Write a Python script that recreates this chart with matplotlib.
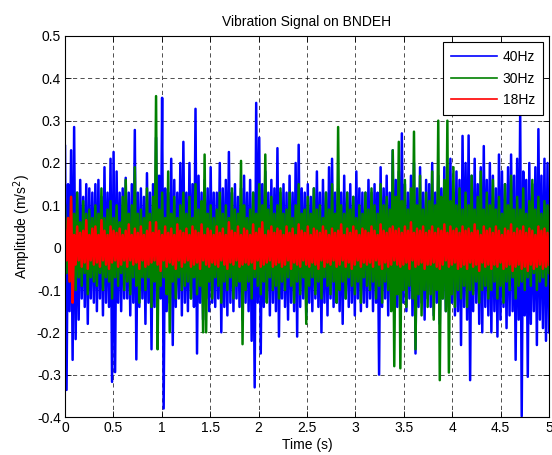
import numpy as np
import matplotlib
matplotlib.use("Agg")
import matplotlib.pyplot as plt
from matplotlib.ticker import FormatStrFormatter, MultipleLocator

plt.rcParams["font.family"] = ["Liberation Sans", "DejaVu Sans"]
plt.rcParams["font.size"] = 10

blue_hi = [
    0.24, 0.15, 0.23, 0.285, 0.13, 0.16, 0.12, 0.15, 0.14, 0.13,
    0.15, 0.16, 0.12, 0.19, 0.13, 0.21, 0.226, 0.18, 0.13, 0.14,
    0.165, 0.13, 0.15, 0.278, 0.13, 0.14, 0.12, 0.176, 0.13, 0.15,
    0.26, 0.17, 0.354, 0.14, 0.13, 0.21, 0.16, 0.13, 0.2, 0.25,
    0.13, 0.2, 0.15, 0.328, 0.17, 0.13, 0.16, 0.14, 0.19, 0.13,
    0.13, 0.2, 0.14, 0.16, 0.226, 0.13, 0.15, 0.12, 0.14, 0.17,
    0.13, 0.16, 0.13, 0.342, 0.26, 0.15, 0.18, 0.13, 0.16, 0.14,
    0.235, 0.13, 0.15, 0.13, 0.17, 0.13, 0.2, 0.243, 0.14, 0.13,
    0.15, 0.12, 0.14, 0.18, 0.13, 0.16, 0.13, 0.19, 0.21, 0.13,
    0.14, 0.13, 0.17, 0.13, 0.15, 0.12, 0.18, 0.14, 0.13, 0.13,
    0.16, 0.13, 0.15, 0.13, 0.19, 0.14, 0.17, 0.13, 0.23, 0.16,
    0.18, 0.27, 0.15, 0.13, 0.17, 0.2, 0.14, 0.19, 0.13, 0.16,
    0.15, 0.2, 0.13, 0.17, 0.14, 0.19, 0.15, 0.21, 0.13, 0.18,
    0.16, 0.264, 0.2, 0.265, 0.17, 0.21, 0.15, 0.19, 0.24, 0.16,
    0.2, 0.17, 0.14, 0.22, 0.18, 0.15, 0.19, 0.22, 0.17, 0.21,
    0.32, 0.18, 0.16, 0.2, 0.15, 0.19, 0.28, 0.17, 0.21, 0.2,
]
blue_lo = [
    -0.336, -0.15, -0.265, -0.216, -0.17, -0.12, -0.14, -0.18, -0.12, -0.13,
    -0.15, -0.12, -0.16, -0.13, -0.14, -0.317, -0.294, -0.13, -0.15, -0.12,
    -0.12, -0.16, -0.13, -0.264, -0.14, -0.12, -0.18, -0.13, -0.24, -0.14,
    -0.17, -0.12, -0.38, -0.15, -0.13, -0.23, -0.14, -0.12, -0.16, -0.13,
    -0.15, -0.12, -0.14, -0.25, -0.13, -0.17, -0.12, -0.15, -0.13, -0.14,
    -0.12, -0.2, -0.14, -0.16, -0.13, -0.15, -0.12, -0.14, -0.17, -0.13,
    -0.15, -0.22, -0.33, -0.13, -0.25, -0.14, -0.12, -0.16, -0.13, -0.15,
    -0.21, -0.12, -0.14, -0.17, -0.13, -0.15, -0.21, -0.14, -0.12, -0.16,
    -0.13, -0.15, -0.12, -0.14, -0.2, -0.13, -0.16, -0.12, -0.14, -0.13,
    -0.15, -0.18, -0.12, -0.14, -0.13, -0.16, -0.12, -0.15, -0.13, -0.14,
    -0.12, -0.15, -0.13, -0.3, -0.14, -0.12, -0.16, -0.13, -0.15, -0.14,
    -0.17, -0.13, -0.15, -0.12, -0.16, -0.25, -0.14, -0.13, -0.17, -0.12,
    -0.14, -0.16, -0.13, -0.18, -0.12, -0.15, -0.14, -0.13, -0.16, -0.15,
    -0.23, -0.14, -0.17, -0.313, -0.15, -0.13, -0.18, -0.2, -0.14, -0.16,
    -0.2, -0.15, -0.21, -0.17, -0.14, -0.19, -0.16, -0.15, -0.265, -0.17,
    -0.398, -0.16, -0.305, -0.18, -0.15, -0.23, -0.17, -0.19, -0.22, -0.2,
]
green_hi = [
    0.10, 0.07, 0.12, 0.08, 0.13, 0.06, 0.11, 0.08, 0.09, 0.07,
    0.10, 0.08, 0.14, 0.07, 0.09, 0.11, 0.07, 0.10, 0.06, 0.12,
    0.16, 0.08, 0.10, 0.19, 0.08, 0.09, 0.07, 0.14, 0.08, 0.12,
    0.358, 0.09, 0.13, 0.07, 0.18, 0.08, 0.12, 0.07, 0.10, 0.13,
    0.08, 0.12, 0.07, 0.15, 0.09, 0.11, 0.22, 0.08, 0.10, 0.07,
    0.09, 0.13, 0.08, 0.10, 0.07, 0.14, 0.09, 0.08, 0.205, 0.10,
    0.07, 0.09, 0.13, 0.08, 0.15, 0.10, 0.22, 0.09, 0.12, 0.08,
    0.10, 0.14, 0.08, 0.09, 0.13, 0.07, 0.10, 0.15, 0.08, 0.09,
    0.12, 0.08, 0.14, 0.09, 0.10, 0.07, 0.13, 0.09, 0.15, 0.08,
    0.285, 0.10, 0.08, 0.13, 0.09, 0.12, 0.07, 0.10, 0.08, 0.13,
    0.09, 0.14, 0.10, 0.08, 0.15, 0.10, 0.12, 0.09, 0.23, 0.12,
    0.25, 0.11, 0.16, 0.09, 0.14, 0.274, 0.10, 0.17, 0.09, 0.13,
    0.11, 0.18, 0.10, 0.30, 0.12, 0.16, 0.30, 0.11, 0.19, 0.10,
    0.14, 0.09, 0.13, 0.10, 0.17, 0.09, 0.12, 0.18, 0.09, 0.13,
    0.10, 0.16, 0.09, 0.12, 0.08, 0.15, 0.10, 0.17, 0.09, 0.12,
    0.09, 0.14, 0.08, 0.11, 0.16, 0.09, 0.12, 0.08, 0.11, 0.10,
]
green_lo = [
    -0.06, -0.08, -0.05, -0.10, -0.07, -0.09, -0.06, -0.11, -0.07, -0.08,
    -0.09, -0.06, -0.10, -0.07, -0.08, -0.12, -0.07, -0.09, -0.06, -0.10,
    -0.08, -0.11, -0.07, -0.09, -0.13, -0.07, -0.10, -0.07, -0.14, -0.08,
    -0.24, -0.09, -0.07, -0.11, -0.20, -0.08, -0.12, -0.07, -0.10, -0.09,
    -0.08, -0.12, -0.07, -0.11, -0.09, -0.20, -0.20, -0.08, -0.12, -0.07,
    -0.09, -0.13, -0.08, -0.10, -0.07, -0.12, -0.09, -0.08, -0.228, -0.10,
    -0.08, -0.12, -0.07, -0.09, -0.11, -0.08, -0.13, -0.07, -0.10, -0.09,
    -0.12, -0.08, -0.10, -0.07, -0.09, -0.13, -0.08, -0.11, -0.07, -0.18,
    -0.09, -0.07, -0.11, -0.08, -0.12, -0.07, -0.09, -0.11, -0.08, -0.13,
    -0.10, -0.08, -0.12, -0.07, -0.09, -0.11, -0.08, -0.13, -0.07, -0.09,
    -0.10, -0.08, -0.12, -0.09, -0.13, -0.08, -0.10, -0.15, -0.28, -0.11,
    -0.285, -0.10, -0.14, -0.09, -0.12, -0.24, -0.11, -0.16, -0.10, -0.14,
    -0.11, -0.17, -0.10, -0.313, -0.12, -0.15, -0.295, -0.11, -0.14, -0.10,
    -0.12, -0.09, -0.14, -0.10, -0.11, -0.08, -0.13, -0.10, -0.09, -0.12,
    -0.10, -0.08, -0.12, -0.09, -0.13, -0.08, -0.10, -0.07, -0.12, -0.09,
    -0.08, -0.10, -0.07, -0.09, -0.06, -0.10, -0.08, -0.07, -0.09, -0.06,
]
red_hi = [
    0.04, 0.07, 0.12, 0.03, 0.05, 0.035, 0.04, 0.065, 0.03, 0.045,
    0.05, 0.03, 0.065, 0.04, 0.03, 0.05, 0.04, 0.035, 0.045, 0.03,
    0.04, 0.055, 0.03, 0.045, 0.035, 0.05, 0.03, 0.04, 0.06, 0.035,
    0.06, 0.04, 0.03, 0.05, 0.035, 0.045, 0.03, 0.055, 0.04, 0.035,
    0.045, 0.03, 0.05, 0.04, 0.035, 0.055, 0.03, 0.045, 0.04, 0.03,
    0.05, 0.035, 0.045, 0.03, 0.06, 0.04, 0.035, 0.05, 0.03, 0.045,
    0.04, 0.03, 0.055, 0.035, 0.045, 0.06, 0.03, 0.04, 0.05, 0.035,
    0.045, 0.04, 0.03, 0.05, 0.035, 0.045, 0.03, 0.055, 0.04, 0.035,
    0.05, 0.03, 0.045, 0.04, 0.035, 0.05, 0.04, 0.03, 0.045, 0.035,
    0.04, 0.055, 0.03, 0.045, 0.035, 0.05, 0.04, 0.03, 0.045, 0.04,
    0.035, 0.05, 0.04, 0.03, 0.055, 0.04, 0.035, 0.045, 0.05, 0.04,
    0.045, 0.035, 0.05, 0.04, 0.06, 0.035, 0.045, 0.04, 0.05, 0.035,
    0.04, 0.05, 0.035, 0.045, 0.04, 0.055, 0.035, 0.05, 0.04, 0.045,
    0.035, 0.05, 0.04, 0.045, 0.035, 0.055, 0.04, 0.03, 0.05, 0.04,
    0.045, 0.035, 0.05, 0.04, 0.03, 0.045, 0.04, 0.055, 0.035, 0.045,
    0.04, 0.05, 0.035, 0.045, 0.04, 0.03, 0.05, 0.04, 0.045, 0.035,
]
red_lo = [
    -0.03, -0.08, -0.13, -0.04, -0.03, -0.045, -0.035, -0.05, -0.03, -0.04,
    -0.035, -0.045, -0.03, -0.04, -0.05, -0.035, -0.03, -0.045, -0.04, -0.03,
    -0.045, -0.03, -0.04, -0.035, -0.05, -0.03, -0.045, -0.04, -0.035, -0.03,
    -0.04, -0.055, -0.03, -0.045, -0.035, -0.04, -0.05, -0.03, -0.045, -0.035,
    -0.03, -0.045, -0.04, -0.035, -0.05, -0.03, -0.04, -0.045, -0.035, -0.04,
    -0.045, -0.03, -0.04, -0.05, -0.035, -0.04, -0.03, -0.045, -0.04, -0.035,
    -0.04, -0.035, -0.05, -0.03, -0.045, -0.04, -0.035, -0.03, -0.045, -0.04,
    -0.035, -0.045, -0.04, -0.03, -0.05, -0.035, -0.04, -0.045, -0.03, -0.04,
    -0.045, -0.035, -0.04, -0.05, -0.03, -0.045, -0.035, -0.04, -0.03, -0.045,
    -0.04, -0.03, -0.045, -0.035, -0.05, -0.04, -0.03, -0.045, -0.035, -0.04,
    -0.035, -0.045, -0.03, -0.04, -0.05, -0.035, -0.045, -0.04, -0.03, -0.04,
    -0.045, -0.04, -0.035, -0.05, -0.03, -0.045, -0.04, -0.035, -0.05, -0.04,
    -0.04, -0.035, -0.045, -0.05, -0.04, -0.03, -0.045, -0.04, -0.035, -0.05,
    -0.045, -0.04, -0.05, -0.035, -0.045, -0.04, -0.055, -0.035, -0.045, -0.04,
    -0.05, -0.04, -0.045, -0.035, -0.05, -0.045, -0.04, -0.055, -0.045, -0.04,
    -0.05, -0.045, -0.055, -0.04, -0.05, -0.045, -0.04, -0.05, -0.045, -0.04,
]
labels = ["40Hz", "30Hz", "18Hz"]
T_END = 5.0


def interleave(hi, lo):
    return np.column_stack([hi, lo]).ravel()


fig = plt.figure(figsize=(5.52, 4.55), dpi=100)
ax = fig.add_axes([0.1178, 0.0835, 0.8768, 0.8374])

series = [(blue_hi, blue_lo, "#0000ff"),
          (green_hi, green_lo, "#008000"),
          (red_hi, red_lo, "#ff0000")]
for (hi, lo, col), lab in zip(series, labels):
    sig = interleave(hi, lo)
    t = np.linspace(0, T_END, len(sig))
    ax.plot(t, sig, color=col, lw=1.8, label=lab)

ax.set_xlim(0, 5)
ax.set_ylim(-0.4, 0.5)
ax.xaxis.set_major_locator(MultipleLocator(0.5))
ax.yaxis.set_major_locator(MultipleLocator(0.1))
ax.xaxis.set_major_formatter(FormatStrFormatter("%g"))
ax.yaxis.set_major_formatter(FormatStrFormatter("%g"))
ax.tick_params(direction="in", top=True, right=True, length=4, width=0.6,
               pad=3)
ax.grid(True, color="black", linestyle=(0, (5, 4)), linewidth=0.6, alpha=0.8)
ax.set_axisbelow(True)
for s in ax.spines.values():
    s.set_linewidth(0.8)

ax.set_title("Vibration Signal on BNDEH", fontsize=10, pad=7)
ax.set_xlabel("Time (s)", labelpad=2)
ax.set_ylabel("Amplitude (m/s$^2$)", labelpad=3)

leg = ax.legend(loc="upper right", fancybox=False, edgecolor="black",
                framealpha=1, handlelength=3.3, handletextpad=0.45,
                borderaxespad=0.45, borderpad=0.55, labelspacing=0.55,
                fontsize=10)
leg.get_frame().set_linewidth(0.8)
for line in leg.get_lines():
    line.set_linewidth(1.2)

fig.savefig("out.png", dpi=100)
